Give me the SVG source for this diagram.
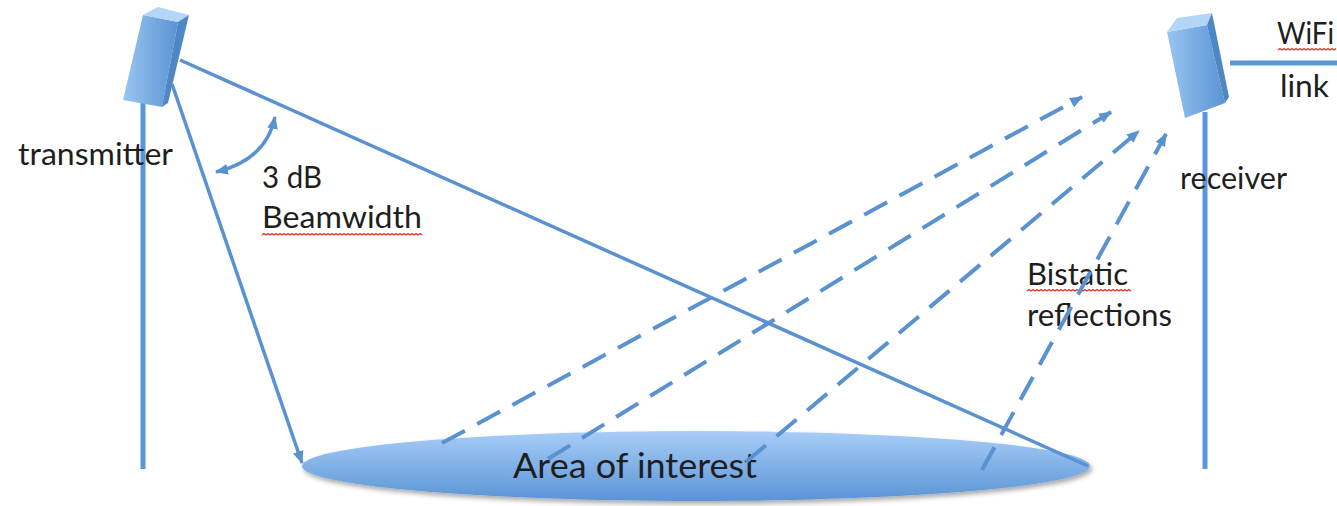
<svg xmlns="http://www.w3.org/2000/svg" width="1337" height="506" viewBox="0 0 1337 506">
  <style>
    .lbl { font-family: Lato, "Open Sans", "Liberation Sans", sans-serif; font-size: 30px; fill: #1e1e1e; }
    .big { font-size: 35px; }
    .pole { stroke: #5b96d6; stroke-width: 5; fill: none; }
    .beam { stroke: #5a91d0; stroke-width: 3.5; fill: none; }
    .dash { stroke: #5a91d0; stroke-width: 4; fill: none; stroke-dasharray: 26 14; }
    .squig { stroke: #e0312b; stroke-width: 1.3; fill: none; }
    .front { fill: url(#boxFront); }
    .top { fill: #b3d5f7; }
    .side { fill: #4f86c4; }
  </style>
  <defs>
    <linearGradient id="boxFront" x1="0" y1="0" x2="1" y2="0">
      <stop offset="0" stop-color="#98c6f2"/>
      <stop offset="1" stop-color="#5b93d3"/>
    </linearGradient>
    <linearGradient id="areaFill" x1="0" y1="0" x2="0" y2="1">
      <stop offset="0" stop-color="#a8cdf7"/>
      <stop offset="1" stop-color="#5a94d6"/>
    </linearGradient>
    <filter id="soft" x="-5%" y="-30%" width="110%" height="170%">
      <feGaussianBlur in="SourceAlpha" stdDeviation="2.5"/>
      <feOffset dx="2" dy="3"/>
      <feComponentTransfer><feFuncA type="linear" slope="0.35"/></feComponentTransfer>
      <feMerge><feMergeNode/><feMergeNode in="SourceGraphic"/></feMerge>
    </filter>
    <marker id="head" viewBox="0 0 12 10" refX="11" refY="5" markerWidth="13" markerHeight="11" markerUnits="userSpaceOnUse" orient="auto-start-reverse">
      <path d="M0,0 L12,5 L0,10 Z" fill="#5a91d0"/>
    </marker>
  </defs>

  <rect width="1337" height="506" fill="#ffffff"/>

  <!-- transmitter: antenna box on a pole -->
  <g id="transmitter">
    <line class="pole" x1="143" y1="100" x2="143" y2="469"/>
    <polygon class="front" points="143,15 178,22 162,107 123,100"/>
    <polygon class="top" points="143,15 158,7 189,15 178,22"/>
    <polygon class="side" points="178,22 189,15 168,103 162,107"/>
    <text class="lbl" x="18" y="165" textLength="155" lengthAdjust="spacingAndGlyphs">transmitter</text>
  </g>

  <!-- receiver: antenna box on a pole, with its WiFi link -->
  <g id="receiver">
    <line class="pole" x1="1205" y1="112" x2="1205" y2="469"/>
    <polygon class="front" points="1167,32 1207,25 1225,103 1185,118"/>
    <polygon class="top" points="1167,32 1177,18 1212,13 1207,25"/>
    <polygon class="side" points="1207,25 1212,13 1229,97 1225,103"/>
    <text class="lbl" x="1180" y="189" textLength="107" lengthAdjust="spacingAndGlyphs">receiver</text>
  </g>

  <g id="wifi-link">
    <line class="pole" x1="1230" y1="63" x2="1337" y2="63"/>
    <text class="lbl" x="1277" y="44" textLength="57" lengthAdjust="spacingAndGlyphs">WiFi</text>
    <path class="squig" d="M1278,50 l2,-1.5 l2,1.5 l2,-1.5 l2,1.5 l2,-1.5 l2,1.5 l2,-1.5 l2,1.5 l2,-1.5 l2,1.5 l2,-1.5 l2,1.5 l2,-1.5 l2,1.5 l2,-1.5 l2,1.5 l2,-1.5 l2,1.5 l2,-1.5 l2,1.5 l2,-1.5 l2,1.5 l2,-1.5 l2,1.5 l2,-1.5 l2,1.5 l2,-1.5 l2,1.5 l2,-1.5"/>
    <text class="lbl" x="1280" y="97" textLength="49" lengthAdjust="spacingAndGlyphs">link</text>
  </g>

  <!-- illuminated ground patch -->
  <g id="area">
    <ellipse cx="696" cy="466" rx="394" ry="35" fill="url(#areaFill)" filter="url(#soft)"/>
    <text class="lbl big" x="513" y="478" textLength="244" lengthAdjust="spacingAndGlyphs">Area of interest</text>
  </g>

  <!-- beam annotation -->
  <g id="beamwidth">
    <text class="lbl" x="262" y="188" textLength="60" lengthAdjust="spacingAndGlyphs">3 dB</text>
    <text class="lbl" x="262" y="228" textLength="160" lengthAdjust="spacingAndGlyphs">Beamwidth</text>
    <path class="squig" d="M262,235 l2,-1.5 l2,1.5 l2,-1.5 l2,1.5 l2,-1.5 l2,1.5 l2,-1.5 l2,1.5 l2,-1.5 l2,1.5 l2,-1.5 l2,1.5 l2,-1.5 l2,1.5 l2,-1.5 l2,1.5 l2,-1.5 l2,1.5 l2,-1.5 l2,1.5 l2,-1.5 l2,1.5 l2,-1.5 l2,1.5 l2,-1.5 l2,1.5 l2,-1.5 l2,1.5 l2,-1.5 l2,1.5 l2,-1.5 l2,1.5 l2,-1.5 l2,1.5 l2,-1.5 l2,1.5 l2,-1.5 l2,1.5 l2,-1.5 l2,1.5 l2,-1.5 l2,1.5 l2,-1.5 l2,1.5 l2,-1.5 l2,1.5 l2,-1.5 l2,1.5 l2,-1.5 l2,1.5 l2,-1.5 l2,1.5 l2,-1.5 l2,1.5 l2,-1.5 l2,1.5 l2,-1.5 l2,1.5 l2,-1.5 l2,1.5 l2,-1.5 l2,1.5 l2,-1.5 l2,1.5 l2,-1.5 l2,1.5 l2,-1.5 l2,1.5 l2,-1.5 l2,1.5 l2,-1.5 l2,1.5 l2,-1.5 l2,1.5 l2,-1.5 l2,1.5 l2,-1.5 l2,1.5 l2,-1.5 l2,1.5"/>
  </g>

  <g id="reflections-label">
    <text class="lbl" x="1027" y="285" textLength="101" lengthAdjust="spacingAndGlyphs">Bistatic</text>
    <path class="squig" d="M1027,291 l2,-1.5 l2,1.5 l2,-1.5 l2,1.5 l2,-1.5 l2,1.5 l2,-1.5 l2,1.5 l2,-1.5 l2,1.5 l2,-1.5 l2,1.5 l2,-1.5 l2,1.5 l2,-1.5 l2,1.5 l2,-1.5 l2,1.5 l2,-1.5 l2,1.5 l2,-1.5 l2,1.5 l2,-1.5 l2,1.5 l2,-1.5 l2,1.5 l2,-1.5 l2,1.5 l2,-1.5 l2,1.5 l2,-1.5 l2,1.5 l2,-1.5 l2,1.5 l2,-1.5 l2,1.5 l2,-1.5 l2,1.5 l2,-1.5 l2,1.5 l2,-1.5 l2,1.5 l2,-1.5 l2,1.5 l2,-1.5 l2,1.5 l2,-1.5 l2,1.5 l2,-1.5 l2,1.5 l2,-1.5 l2,1.5"/>
    <text class="lbl" x="1027" y="326" textLength="145" lengthAdjust="spacingAndGlyphs">reflections</text>
  </g>

  <!-- beam edges, beamwidth arc and reflected paths -->
  <g id="connectors">
    <line class="beam" x1="180" y1="60" x2="1088" y2="466"/>
    <line class="beam" x1="172" y1="84" x2="302" y2="463" marker-end="url(#head)"/>
    <path class="beam" d="M216,172 Q266,160 275,117" marker-start="url(#head)" marker-end="url(#head)"/>
    <line class="dash" x1="442" y1="443" x2="1082" y2="97" marker-end="url(#head)"/>
    <line class="dash" x1="548" y1="459" x2="1111" y2="112" marker-end="url(#head)"/>
    <line class="dash" x1="746" y1="462" x2="1139" y2="131" marker-end="url(#head)"/>
    <line class="dash" x1="982" y1="470" x2="1166" y2="134" marker-end="url(#head)"/>
  </g>
</svg>
